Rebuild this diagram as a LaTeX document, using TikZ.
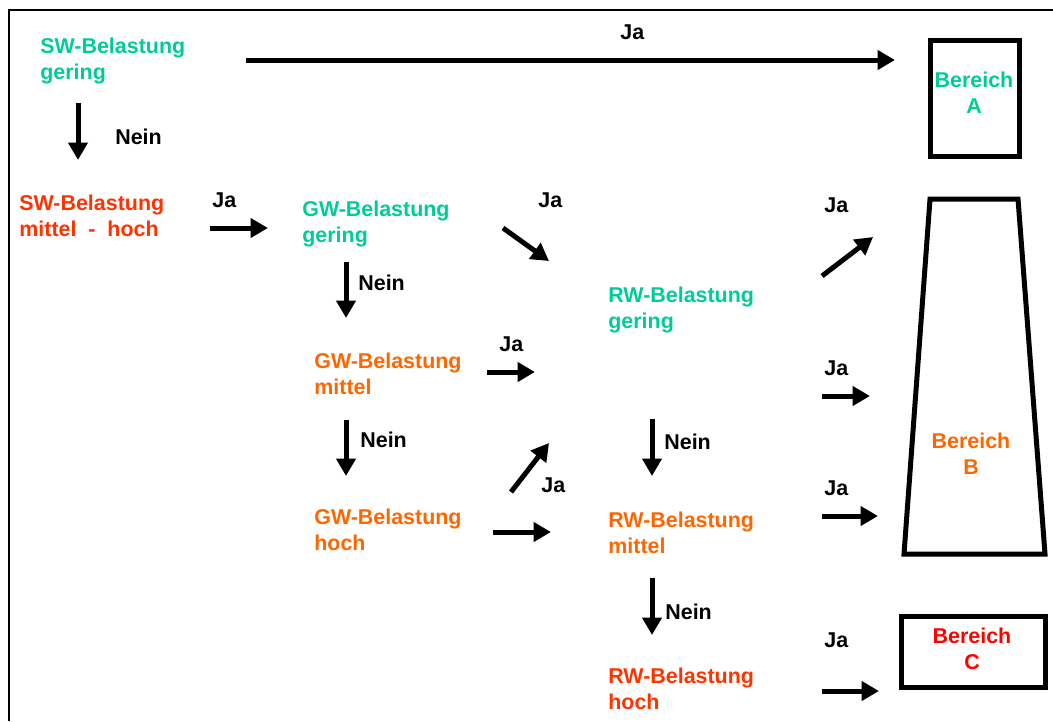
\documentclass[tikz,border=0pt]{standalone}
\usepackage{fontspec}
\setmainfont{Liberation Sans}
\usetikzlibrary{arrows.meta}
\definecolor{gering}{RGB}{0,204,153}
\definecolor{mittel}{RGB}{255,102,0}
\definecolor{hoch}{RGB}{255,51,0}
\definecolor{bereichrot}{RGB}{255,0,0}
\newcommand{\schrift}{\fontsize{12.2}{14.7}\selectfont\bfseries}
\begin{document}
\begin{tikzpicture}[x=0.02cm, y=-0.02cm, line join=miter,
    txt/.style={anchor=base west, align=left, inner sep=0pt, font=\schrift},
    ber/.style={anchor=base, align=center, inner sep=0pt, font=\schrift},
    pfeil/.style={line width=0.1cm, -{Triangle[length=0.35cm, width=0.38cm]}},
    kasten/.style={line width=0.1cm}]
  \useasboundingbox (0,0) rectangle (1053,721);
  \draw[line width=0.04cm] (9,721) -- (9,10) -- (1053,10);
  % Schmutzwasser
  \node[txt, text=gering] (swg) at (40,79) {SW-Belastung\\gering};
  \node[txt, text=hoch] (swm) at (19,236) {SW-Belastung\\mittel\ \ -\ \ hoch};
  \node[txt] (ja0) at (620,39) {Ja};
  \node[txt] (nein0) at (115,144) {Nein};
  \node[txt] (ja1) at (212,207) {Ja};
  \coordinate (a0s) at (246,60); \coordinate (a0e) at (895,60);
  \coordinate (n0s) at (78,103); \coordinate (n0e) at (78,160);
  \coordinate (a1s) at (210,228); \coordinate (a1e) at (268,228);
  \draw[pfeil] (a0s) -- (a0e);
  \draw[pfeil] (n0s) -- (n0e);
  \draw[pfeil] (a1s) -- (a1e);
  % Grundwasser
  \node[txt, text=gering] (gwg) at (302,242) {GW-Belastung\\gering};
  \node[txt, text=mittel] (gwm) at (314,394) {GW-Belastung\\mittel};
  \node[txt, text=mittel] (gwh) at (314,550) {GW-Belastung\\hoch};
  \node[txt] (ja2) at (538,207) {Ja};
  \node[txt] (nein1) at (358,290) {Nein};
  \node[txt] (ja3) at (499,351) {Ja};
  \node[txt] (nein2) at (360,447) {Nein};
  \node[txt] (ja4) at (541,492) {Ja};
  \coordinate (a2s) at (503,228); \coordinate (a2e) at (549,261);
  \coordinate (n1s) at (346,262); \coordinate (n1e) at (346,318);
  \coordinate (a3s) at (487,372); \coordinate (a3e) at (535,372);
  \coordinate (n2s) at (346,420); \coordinate (n2e) at (346,476);
  \coordinate (a4s) at (511,492); \coordinate (a4e) at (549,443);
  \coordinate (a5s) at (493,532); \coordinate (a5e) at (551,532);
  \draw[pfeil] (a2s) -- (a2e);
  \draw[pfeil] (n1s) -- (n1e);
  \draw[pfeil] (a3s) -- (a3e);
  \draw[pfeil] (n2s) -- (n2e);
  \draw[pfeil] (a4s) -- (a4e);
  \draw[pfeil] (a5s) -- (a5e);
  % Regenwasser
  \node[txt, text=gering] (rwg) at (608,328) {RW-Belastung\\gering};
  \node[txt, text=mittel] (rwm) at (608,553) {RW-Belastung\\mittel};
  \node[txt, text=hoch] (rwh) at (608,709) {RW-Belastung\\hoch};
  \node[txt] (nein3) at (664,449) {Nein};
  \node[txt] (nein4) at (665,619) {Nein};
  \coordinate (n3s) at (652,419); \coordinate (n3e) at (652,476);
  \coordinate (n4s) at (652,578); \coordinate (n4e) at (652,635);
  \draw[pfeil] (n3s) -- (n3e);
  \draw[pfeil] (n4s) -- (n4e);
  % Bereiche
  \node[txt] (ja5) at (824,212) {Ja};
  \node[txt] (ja6) at (824,375) {Ja};
  \node[txt] (ja7) at (824,495) {Ja};
  \node[txt] (ja8) at (824,647) {Ja};
  \coordinate (a6s) at (822,276); \coordinate (a6e) at (873,237);
  \coordinate (a7s) at (822,396); \coordinate (a7e) at (870,396);
  \coordinate (a8s) at (822,516); \coordinate (a8e) at (878,516);
  \coordinate (a9s) at (822,691); \coordinate (a9e) at (879,691);
  \draw[pfeil] (a6s) -- (a6e);
  \draw[pfeil] (a7s) -- (a7e);
  \draw[pfeil] (a8s) -- (a8e);
  \draw[pfeil] (a9s) -- (a9e);
  \draw[kasten] (930,40) rectangle (1019,156);
  \draw[kasten] (930,199) -- (1018,199) -- (1045,554) -- (904,554) -- cycle;
  \draw[kasten] (901,616) rectangle (1045,687);
  \node[ber, text=gering] (ba) at (974,113) {Bereich\\A};
  \node[ber, text=mittel] (bb) at (971,474) {Bereich\\B};
  \node[ber, text=bereichrot] (bc) at (972,669) {Bereich\\C};
\end{tikzpicture}
\end{document}
